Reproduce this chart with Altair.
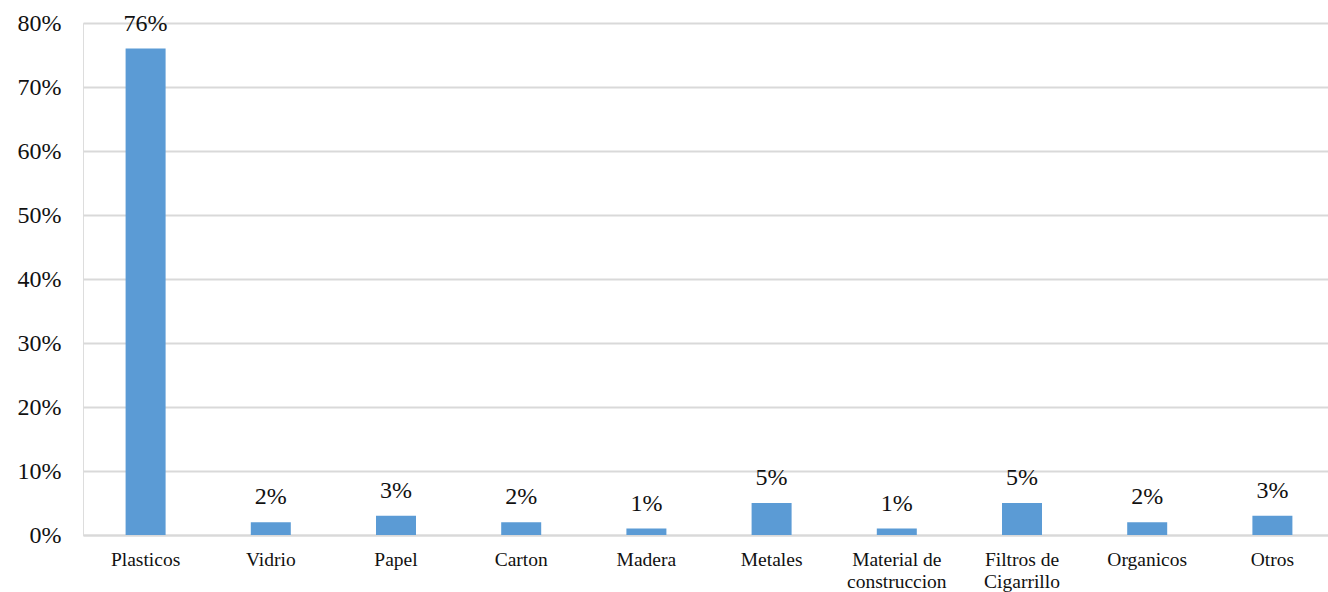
import altair as alt
import pandas as pd

categories = ["Plasticos", "Vidrio", "Papel", "Carton", "Madera", "Metales",
              "Material de|construccion", "Filtros de|Cigarrillo", "Organicos", "Otros"]
values = [76, 2, 3, 2, 1, 5, 1, 5, 2, 3]

df = pd.DataFrame({"cat": categories, "val": values})
df["lbl"] = df["val"].astype(str) + "%"

FONT = "Liberation Serif, Times New Roman, serif"

x = alt.X("cat:N", sort=categories, title=None,
          scale=alt.Scale(range=[0, 1252], paddingInner=0, paddingOuter=0),
          axis=alt.Axis(labelExpr="split(datum.label, '|')", labelAngle=0,
                        labelFont=FONT, labelFontSize=19.5, labelColor="#111111",
                        labelPadding=15, labelLineHeight=22, ticks=False,
                        domain=True, domainColor="#d9d9d9", domainWidth=2,
                        labelBaseline="top"))
y = alt.Y("val:Q", title=None,
          scale=alt.Scale(domain=[0, 80], nice=False),
          axis=alt.Axis(values=[0, 10, 20, 30, 40, 50, 60, 70, 80],
                        labelExpr="datum.value + '%'", labelFont=FONT,
                        labelFontSize=24, labelColor="#111111", labelPadding=22,
                        ticks=False, domain=False, gridColor="#d9d9d9",
                        gridWidth=2))

base = alt.Chart(df)
bars = base.mark_bar(width=40, color="#5B9BD5").encode(x=x, y=y)
text = base.mark_text(font=FONT, fontSize=24, color="#111111",
                      baseline="alphabetic", dy=-18).encode(
    x=alt.X("cat:N", sort=categories), y="val:Q", text="lbl:N")

chart = (bars + text).properties(
    width=1245, height=512,
    autosize=alt.AutoSizeParams(type="none"),
    padding={"left": 83, "top": 23, "right": 0, "bottom": 57},
).configure_view(stroke=None).configure(background="white")

chart.save("out.html", embed_options={"renderer": "svg", "actions": False})
